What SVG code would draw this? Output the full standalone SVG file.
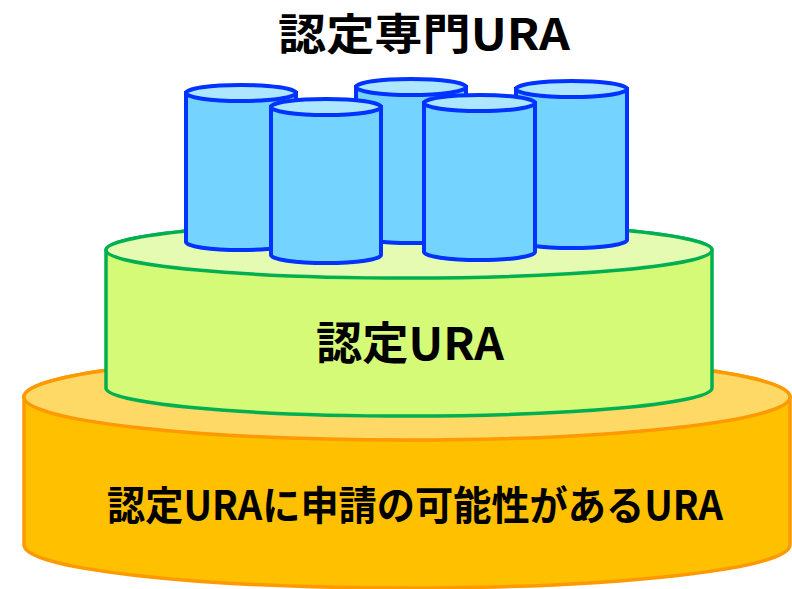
<svg xmlns="http://www.w3.org/2000/svg" width="792" height="589" viewBox="0 0 792 589">
<style>
.ob{fill:#FFC000;stroke:#FF9900;stroke-width:3.5}
.ot{fill:#FFD966;stroke:#FF9900;stroke-width:3.5}
.gb{fill:#D4FA78;stroke:#00B050;stroke-width:3.5}
.gt{fill:#E6FBB2;stroke:#00B050;stroke-width:3.5}
.bb{fill:#75D3FF;stroke:#0033FF;stroke-width:4}
.bt{fill:#ADE6FF;stroke:#0033FF;stroke-width:4}
text{font-family:"Noto Sans CJK JP","Noto Sans",sans-serif;font-weight:bold;fill:#000;text-anchor:middle}
</style>
<rect width="792" height="589" fill="#fff"/>
<g id="base">
<path class="ob" d="M24,397 V545 A383,43 0 0 0 790,545 V397 A383,43 0 0 0 24,397 Z"/>
<ellipse class="ot" cx="407" cy="397" rx="383" ry="43"/>
<text x="415" y="520" font-size="40" textLength="616" lengthAdjust="spacingAndGlyphs">認定URAに申請の可能性があるURA</text>
</g>
<g id="certified">
<path class="gb" d="M106,250 V388 A303,28 0 0 0 712,388 V250 A303,28 0 0 0 106,250 Z"/>
<ellipse class="gt" cx="409" cy="250" rx="303" ry="28"/>
<text x="410" y="360" font-size="45" textLength="188" lengthAdjust="spacingAndGlyphs">認定URA</text>
</g>
<g id="specialist">
<g id="c1">
<path class="bb" d="M186,93 V242 A55,8 0 0 0 296,242 V93 Z"/>
<ellipse class="bt" cx="241" cy="93" rx="55" ry="8"/>
</g>
<g id="c3">
<path class="bb" d="M356,87 V235 A55,8 0 0 0 466,235 V87 Z"/>
<ellipse class="bt" cx="411" cy="87" rx="55" ry="8"/>
</g>
<g id="c5">
<path class="bb" d="M516,89 V240 A55.5,8 0 0 0 627,240 V89 Z"/>
<ellipse class="bt" cx="571.5" cy="89" rx="55.5" ry="8"/>
</g>
<g id="c2">
<path class="bb" d="M271,107 V255 A55,8 0 0 0 381,255 V107 Z"/>
<ellipse class="bt" cx="326" cy="107" rx="55" ry="8"/>
</g>
<g id="c4">
<path class="bb" d="M424,103 V252 A55.5,8 0 0 0 535,252 V103 Z"/>
<ellipse class="bt" cx="479.5" cy="103" rx="55.5" ry="8"/>
</g>
<text x="424" y="50" font-size="43" textLength="292" lengthAdjust="spacingAndGlyphs">認定専門URA</text>
</g>
</svg>
